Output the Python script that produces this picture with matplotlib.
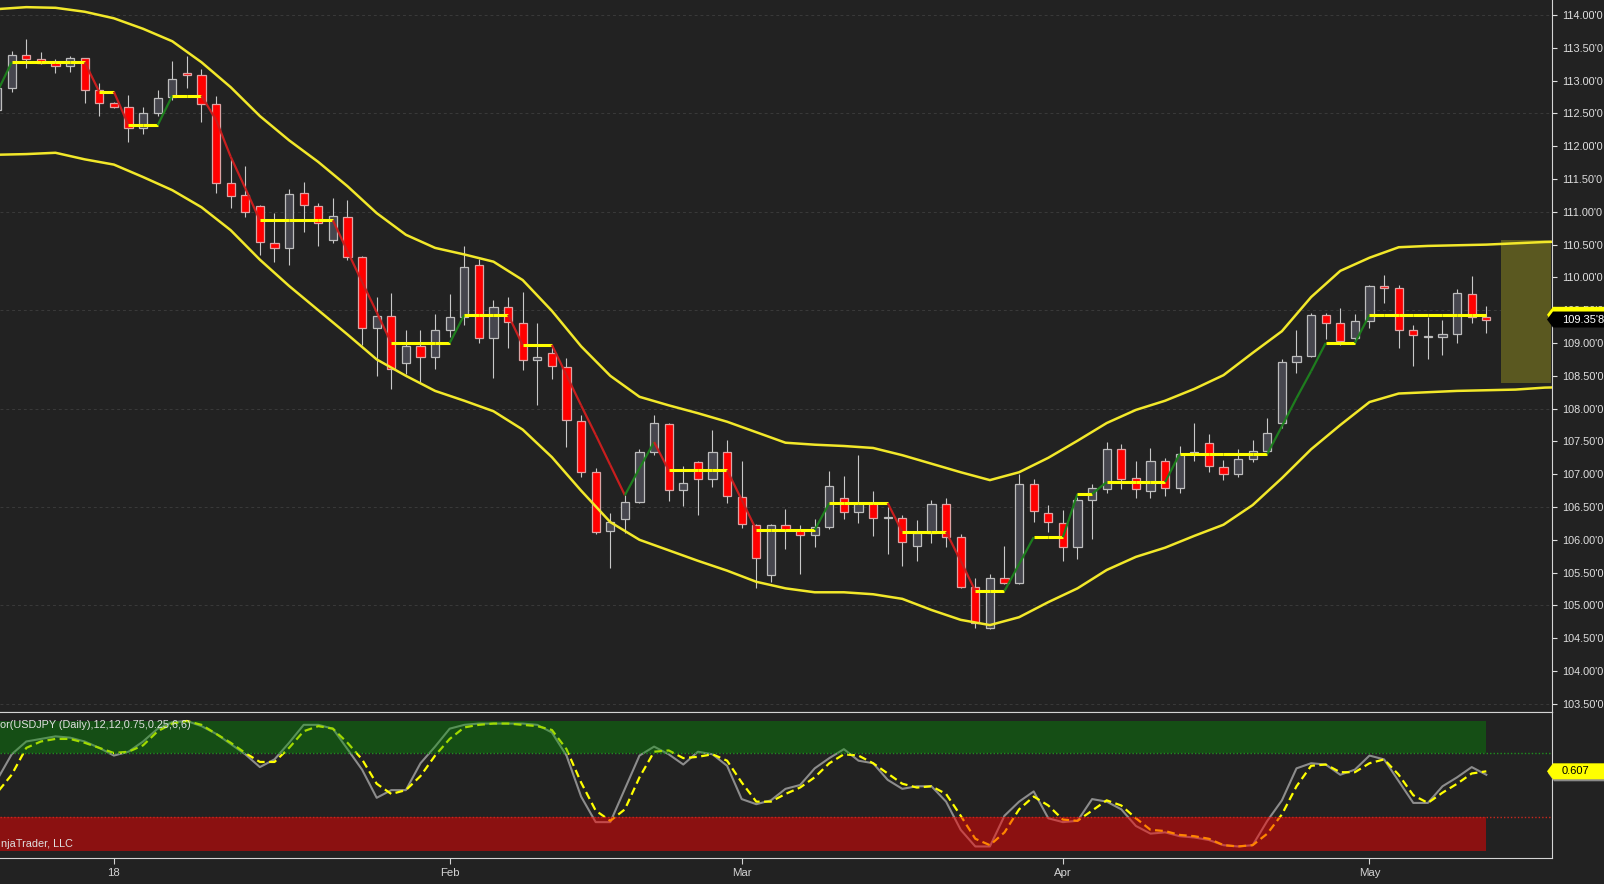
import numpy as np
import pandas as pd
import matplotlib
matplotlib.use("Agg")
import matplotlib.pyplot as plt
from matplotlib.patches import Rectangle, Polygon
from matplotlib.transforms import IdentityTransform
from matplotlib.ticker import FuncFormatter, MultipleLocator

plt.rcParams['font.family'] = ['Liberation Sans', 'DejaVu Sans']

# ---------------- datos USDJPY diario ----------------
dates = pd.bdate_range("2017-12-20", "2018-05-11")

opens = [112.55, 112.89, 113.39, 113.33, 113.28, 113.22, 113.34, 112.86, 112.66, 112.60,
         112.28, 112.51, 112.75, 113.12, 113.09, 112.64, 111.44, 111.26, 111.09, 110.52,
         110.45, 111.29, 111.09, 110.57, 110.92, 110.31, 109.23, 109.41, 108.70, 108.95,
         108.79, 109.20, 109.40, 110.19, 109.08, 109.55, 109.30, 108.74, 108.85, 108.63,
         107.81, 107.03, 106.13, 106.32, 106.58, 107.34, 107.77, 106.76, 107.19, 106.93,
         107.34, 106.65, 106.23, 105.46, 106.23, 106.15, 106.07, 106.20, 106.64, 106.42,
         106.56, 106.33, 106.33, 105.91, 106.10, 106.55, 106.04, 105.28, 104.66, 105.42,
         105.34, 106.85, 106.41, 106.26, 105.89, 106.61, 106.77, 107.38, 106.94, 106.74,
         107.20, 106.79, 107.31, 107.48, 107.11, 107.00, 107.23, 107.35, 107.78, 108.71,
         108.80, 109.43, 109.30, 109.08, 109.34, 109.87, 109.84, 109.20, 109.09, 109.09,
         109.14, 109.75, 109.40]
highs = [112.93, 113.45, 113.63, 113.44, 113.33, 113.38, 113.35, 112.96, 112.67, 112.78,
         112.60, 112.86, 113.30, 113.38, 113.18, 112.77, 111.80, 111.70, 111.10, 110.98,
         111.35, 111.45, 111.13, 111.21, 111.18, 110.33, 109.70, 109.76, 109.20, 109.20,
         109.44, 109.75, 110.48, 110.28, 109.66, 109.70, 109.78, 109.30, 108.94, 108.77,
         107.90, 107.10, 106.41, 106.68, 107.38, 107.90, 107.78, 107.13, 107.20, 107.67,
         107.52, 107.20, 106.24, 106.24, 106.47, 106.23, 106.32, 107.05, 106.97, 107.29,
         106.74, 106.50, 106.38, 106.30, 106.61, 106.64, 106.09, 105.42, 105.48, 105.91,
         107.00, 106.93, 106.53, 106.45, 106.65, 106.85, 107.49, 107.46, 107.20, 107.40,
         107.25, 107.43, 107.78, 107.61, 107.22, 107.38, 107.52, 107.86, 108.76, 109.20,
         109.46, 109.46, 109.53, 109.44, 109.89, 110.04, 109.89, 109.27, 109.40, 109.35,
         109.82, 110.02, 109.56]
lows = [112.50, 112.83, 113.19, 113.25, 113.12, 113.13, 112.66, 112.46, 112.58, 112.06,
        112.19, 112.46, 112.70, 112.89, 112.37, 111.29, 111.06, 110.92, 110.34, 110.23,
        110.19, 110.69, 110.48, 110.52, 110.27, 108.97, 108.50, 108.30, 108.53, 108.41,
        108.60, 109.09, 109.27, 109.00, 108.47, 108.92, 108.59, 108.06, 108.45, 107.41,
        106.95, 106.09, 105.57, 106.10, 106.56, 107.29, 106.59, 106.52, 106.38, 106.80,
        106.56, 106.18, 105.27, 105.36, 105.86, 105.48, 105.89, 106.16, 106.32, 106.26,
        106.06, 105.78, 105.60, 105.68, 105.95, 105.89, 105.27, 104.66, 104.64, 105.33,
        105.33, 106.27, 106.12, 105.68, 105.71, 106.01, 106.71, 106.77, 106.64, 106.64,
        106.67, 106.71, 107.20, 107.03, 106.91, 106.96, 107.19, 107.34, 107.70, 108.54,
        108.79, 109.06, 108.97, 109.00, 109.23, 109.61, 108.92, 108.65, 108.76, 108.82,
        109.00, 109.30, 109.15]
closes = [112.89, 113.39, 113.33, 113.27, 113.22, 113.34, 112.86, 112.66, 112.60, 112.28,
          112.51, 112.73, 113.02, 113.09, 112.64, 111.44, 111.24, 111.00, 110.54, 110.45,
          111.27, 111.10, 110.83, 110.94, 110.31, 109.23, 109.41, 108.60, 108.95, 108.79,
          109.20, 109.40, 110.16, 109.08, 109.55, 109.32, 108.74, 108.79, 108.65, 107.83,
          107.03, 106.12, 106.27, 106.58, 107.34, 107.78, 106.76, 106.87, 106.93, 107.34,
          106.67, 106.24, 105.72, 106.23, 106.15, 106.07, 106.20, 106.82, 106.42, 106.56,
          106.33, 106.35, 105.97, 106.10, 106.55, 106.04, 105.28, 104.73, 105.42, 105.34,
          106.85, 106.44, 106.27, 105.89, 106.61, 106.79, 107.38, 106.93, 106.77, 107.20,
          106.79, 107.31, 107.34, 107.13, 107.00, 107.23, 107.35, 107.63, 108.71, 108.80,
          109.43, 109.30, 109.03, 109.34, 109.87, 109.84, 109.20, 109.12, 109.11, 109.14,
          109.76, 109.40, 109.358]

# linea de tendencia escalonada
trend = [112.82, 113.28, 113.28, 113.28, 113.28, 113.28, 113.28, 112.83, 112.83, 112.32,
         112.32, 112.32, 112.77, 112.77, 112.77, 112.40, 111.84, 111.36, 110.87, 110.87,
         110.87, 110.87, 110.87, 110.87, 110.40, 109.93, 109.47, 109.00, 109.00, 109.00,
         109.00, 109.00, 109.43, 109.43, 109.43, 109.43, 108.97, 108.97, 108.97, 108.51,
         108.05, 107.60, 107.14, 106.68, 107.09, 107.49, 107.06, 107.06, 107.06, 107.06,
         107.06, 106.61, 106.15, 106.15, 106.15, 106.15, 106.15, 106.56, 106.56, 106.56,
         106.56, 106.56, 106.12, 106.12, 106.12, 106.12, 105.68, 105.22, 105.22, 105.22,
         105.63, 106.04, 106.04, 106.04, 106.70, 106.70, 106.88, 106.88, 106.88, 106.88,
         106.88, 107.31, 107.31, 107.31, 107.31, 107.31, 107.31, 107.31, 107.73, 108.16,
         108.57, 109.00, 109.00, 109.00, 109.43, 109.43, 109.43, 109.43, 109.43, 109.43,
         109.43, 109.43, 109.43]

# bandas (un valor cada dos barras, se prolongan a la derecha)
upper_band = [114.09, 114.12, 114.11, 114.05, 113.95, 113.79, 113.60, 113.28, 112.90, 112.46,
              112.09, 111.76, 111.39, 110.98, 110.65, 110.45, 110.35, 110.24, 109.96, 109.49,
              108.95, 108.50, 108.18, 108.05, 107.93, 107.80, 107.64, 107.48, 107.45, 107.43,
              107.40, 107.29, 107.16, 107.03, 106.91, 107.03, 107.25, 107.51, 107.78, 107.98,
              108.12, 108.30, 108.51, 108.85, 109.18, 109.70, 110.10, 110.30, 110.46, 110.48,
              110.49, 110.50, 110.52, 110.54, 110.55]
lower_band = [111.87, 111.88, 111.90, 111.80, 111.72, 111.53, 111.33, 111.07, 110.72, 110.27,
              109.87, 109.50, 109.13, 108.75, 108.50, 108.27, 108.12, 107.96, 107.68, 107.26,
              106.75, 106.27, 106.00, 105.84, 105.68, 105.53, 105.36, 105.26, 105.20, 105.20,
              105.17, 105.10, 104.93, 104.78, 104.70, 104.82, 105.05, 105.26, 105.54, 105.74,
              105.88, 106.06, 106.23, 106.53, 106.94, 107.38, 107.75, 108.10, 108.23, 108.25,
              108.27, 108.28, 108.29, 108.32, 108.33]

# oscilador
osc_raw = [0.54, 0.74, 0.84, 0.86, 0.88, 0.87, 0.84, 0.79, 0.73, 0.76,
           0.84, 0.94, 0.99, 1.00, 0.96, 0.90, 0.82, 0.74, 0.64, 0.70,
           0.83, 0.97, 0.97, 0.94, 0.78, 0.62, 0.40, 0.46, 0.46, 0.67,
           0.80, 0.94, 0.97, 0.98, 0.98, 0.98, 0.98, 0.97, 0.91, 0.73,
           0.41, 0.21, 0.21, 0.47, 0.73, 0.80, 0.74, 0.66, 0.76, 0.74,
           0.65, 0.39, 0.35, 0.38, 0.47, 0.50, 0.63, 0.71, 0.78, 0.69,
           0.67, 0.54, 0.47, 0.49, 0.49, 0.37, 0.15, 0.02, 0.02, 0.26,
           0.37, 0.45, 0.24, 0.21, 0.22, 0.39, 0.37, 0.31, 0.18, 0.12,
           0.13, 0.10, 0.09, 0.07, 0.03, 0.02, 0.03, 0.22, 0.38, 0.63,
           0.67, 0.66, 0.58, 0.62, 0.73, 0.70, 0.53, 0.36, 0.36, 0.49,
           0.56, 0.64, 0.58]
osc_smooth = [0.44, 0.58, 0.79, 0.84, 0.86, 0.86, 0.83, 0.79, 0.75, 0.76,
              0.81, 0.92, 0.98, 1.00, 0.97, 0.90, 0.83, 0.75, 0.68, 0.68,
              0.79, 0.92, 0.96, 0.94, 0.83, 0.70, 0.51, 0.43, 0.46, 0.57,
              0.73, 0.86, 0.95, 0.97, 0.98, 0.98, 0.97, 0.96, 0.93, 0.78,
              0.52, 0.30, 0.22, 0.31, 0.56, 0.76, 0.77, 0.71, 0.72, 0.74,
              0.69, 0.52, 0.37, 0.37, 0.43, 0.48, 0.56, 0.67, 0.74, 0.73,
              0.67, 0.59, 0.51, 0.48, 0.49, 0.43, 0.26, 0.08, 0.03, 0.13,
              0.31, 0.41, 0.34, 0.23, 0.22, 0.30, 0.38, 0.34, 0.24, 0.15,
              0.14, 0.11, 0.10, 0.08, 0.03, 0.02, 0.03, 0.12, 0.27, 0.49,
              0.65, 0.66, 0.60, 0.60, 0.67, 0.70, 0.58, 0.42, 0.36, 0.44,
              0.51, 0.59, 0.607]
upper_level = 0.75
lower_level = 0.25

# ---------------- figura ----------------
W, H = 1604, 884
BG = '#222222'
fig = plt.figure(figsize=(W / 100, H / 100), dpi=100, facecolor=BG)
ax = fig.add_axes([0, 1 - 712 / H, 1552 / W, 712 / H], facecolor=BG)
osc = fig.add_axes([0, 1 - 858 / H, 1552 / W, 146 / H], facecolor=BG)

x = np.arange(len(dates))
xmin, xmax = 0.2, 106.5
for a in (ax, osc):
    a.set_xlim(xmin, xmax)
    for s in a.spines.values():
        s.set_color('#d4d4d4')
        s.set_linewidth(0.8)
    a.spines['left'].set_visible(False)
ax.spines['top'].set_visible(False)
ax.set_ylim(103.375, 114.229)
osc.set_ylim(-0.0703, 1.0703)

# rejilla
for lvl in np.arange(103.5, 114.01, 1.5):
    ax.axhline(lvl, color='#3a3a3a', lw=0.7, ls=(0, (3, 3)), zorder=1)

# caja de proyeccion
ax.add_patch(Rectangle((103.0, 108.39), 3.4, 2.18, facecolor='#5a5820', edgecolor='none', zorder=2))

# velas
ax.vlines(x, lows, highs, color='#c8c8c8', lw=0.8, zorder=3)
for i in range(len(x)):
    o, c = opens[i], closes[i]
    if c >= o:
        fc, ec = '#46464e', '#bdbdbd'
    else:
        fc, ec = '#ff0000', '#dca4a4'
    ax.add_patch(Rectangle((x[i] - 0.28, min(o, c)), 0.56, max(abs(c - o), 0.015),
                           facecolor=fc, edgecolor=ec, lw=0.9, zorder=4))

# tendencia
for i in range(len(x) - 1):
    a0, a1 = trend[i], trend[i + 1]
    if a1 == a0:
        col, lw = '#ffff00', 2.2
    elif a1 > a0:
        col, lw = '#1e7d1e', 1.6
    else:
        col, lw = '#c81e1e', 1.6
    ax.plot([x[i], x[i + 1]], [a0, a1], color=col, lw=lw, zorder=5, solid_capstyle='butt')

# bandas
band_x = np.arange(len(upper_band)) * 2
ax.plot(band_x, upper_band, color='#f2e82a', lw=1.8, zorder=6)
ax.plot(band_x, lower_band, color='#f2e82a', lw=1.8, zorder=6)

# eje de precios
def fmt_price(p, pos=None):
    s = f"{p:.3f}"
    return s[:-1] + "'" + s[-1]

ax.yaxis.tick_right()
ax.yaxis.set_major_locator(MultipleLocator(0.5))
ax.yaxis.set_major_formatter(FuncFormatter(fmt_price))
ax.tick_params(axis='y', colors='#e0e0e0', labelsize=7.8, length=3.6, width=0.8, pad=3.4)
ax.tick_params(axis='x', bottom=False, labelbottom=False)

# oscilador
osc.plot(x, osc_raw, color='#8c8c8c', lw=1.5, zorder=2)
osc.plot(x, osc_smooth, color='#ffff00', lw=1.6, ls=(0, (3.5, 2)), zorder=3)
osc.add_patch(Rectangle((xmin, upper_level), x[-1] - xmin, 1 - upper_level,
                        facecolor='#009b00', alpha=0.37, edgecolor='none', zorder=4))
osc.add_patch(Rectangle((xmin, -0.015), x[-1] - xmin, lower_level + 0.015,
                        facecolor='#ff0000', alpha=0.48, edgecolor='none', zorder=4))
osc.axhline(upper_level, color='#1f8f1f', lw=1, ls=(0, (1, 1.5)), zorder=5)
osc.axhline(lower_level, color='#c8281e', lw=1, ls=(0, (1, 1.5)), zorder=5)
osc.set_yticks([])

osc.text(xmin, 0.97, "or(USDJPY (Daily),12,12,0.75,0.25,6,6)", color='#e0e0e0',
         fontsize=7.8, ha='left', va='center', zorder=6)
osc.text(xmin + 0.05, 0.04, "njaTrader, LLC", color='#e0e0e0', fontsize=7.8,
         ha='left', va='center', zorder=6)

month_pos = [i for i in range(1, len(dates)) if dates[i].month != dates[i - 1].month]
month_lab = [f"{dates[i].year % 100}" if dates[i].month == 1 else dates[i].strftime('%b')
             for i in month_pos]
osc.set_xticks(month_pos)
osc.set_xticklabels(month_lab)
osc.tick_params(axis='x', colors='#d4d4d4', labelsize=8.2, length=4, width=0.8, pad=3)

# etiquetas de valor actual
def tag(a, value, face, txt, txtcolor, shadow=False):
    yc = a.transData.transform((1, value))[1]
    h, x0, x1, n = 16, 1547, W, 6
    verts = [(x0, yc), (x0 + n, yc + h / 2), (x1, yc + h / 2), (x1, yc - h / 2), (x0 + n, yc - h / 2)]
    if shadow:
        sv = [(vx + 1, vy - 2) for vx, vy in verts]
        fig.add_artist(Polygon(sv, closed=True, transform=IdentityTransform(),
                               facecolor='#8a8a8a', edgecolor='none', zorder=9))
    fig.add_artist(Polygon(verts, closed=True, transform=IdentityTransform(),
                           facecolor=face, edgecolor='none', zorder=10))
    if txt:
        fig.text(1562 / W, yc / H, txt, color=txtcolor, fontsize=8, ha='left', va='center', zorder=11)

tag(ax, trend[-1], '#ffff00', '', 'black', shadow=True)
tag(ax, closes[-1], '#000000', fmt_price(closes[-1]), 'white')
tag(osc, osc_smooth[-1], '#ffff00', f"{osc_smooth[-1]:.3f}", 'black', shadow=True)

fig.savefig("out.png", dpi=100, facecolor=BG)
